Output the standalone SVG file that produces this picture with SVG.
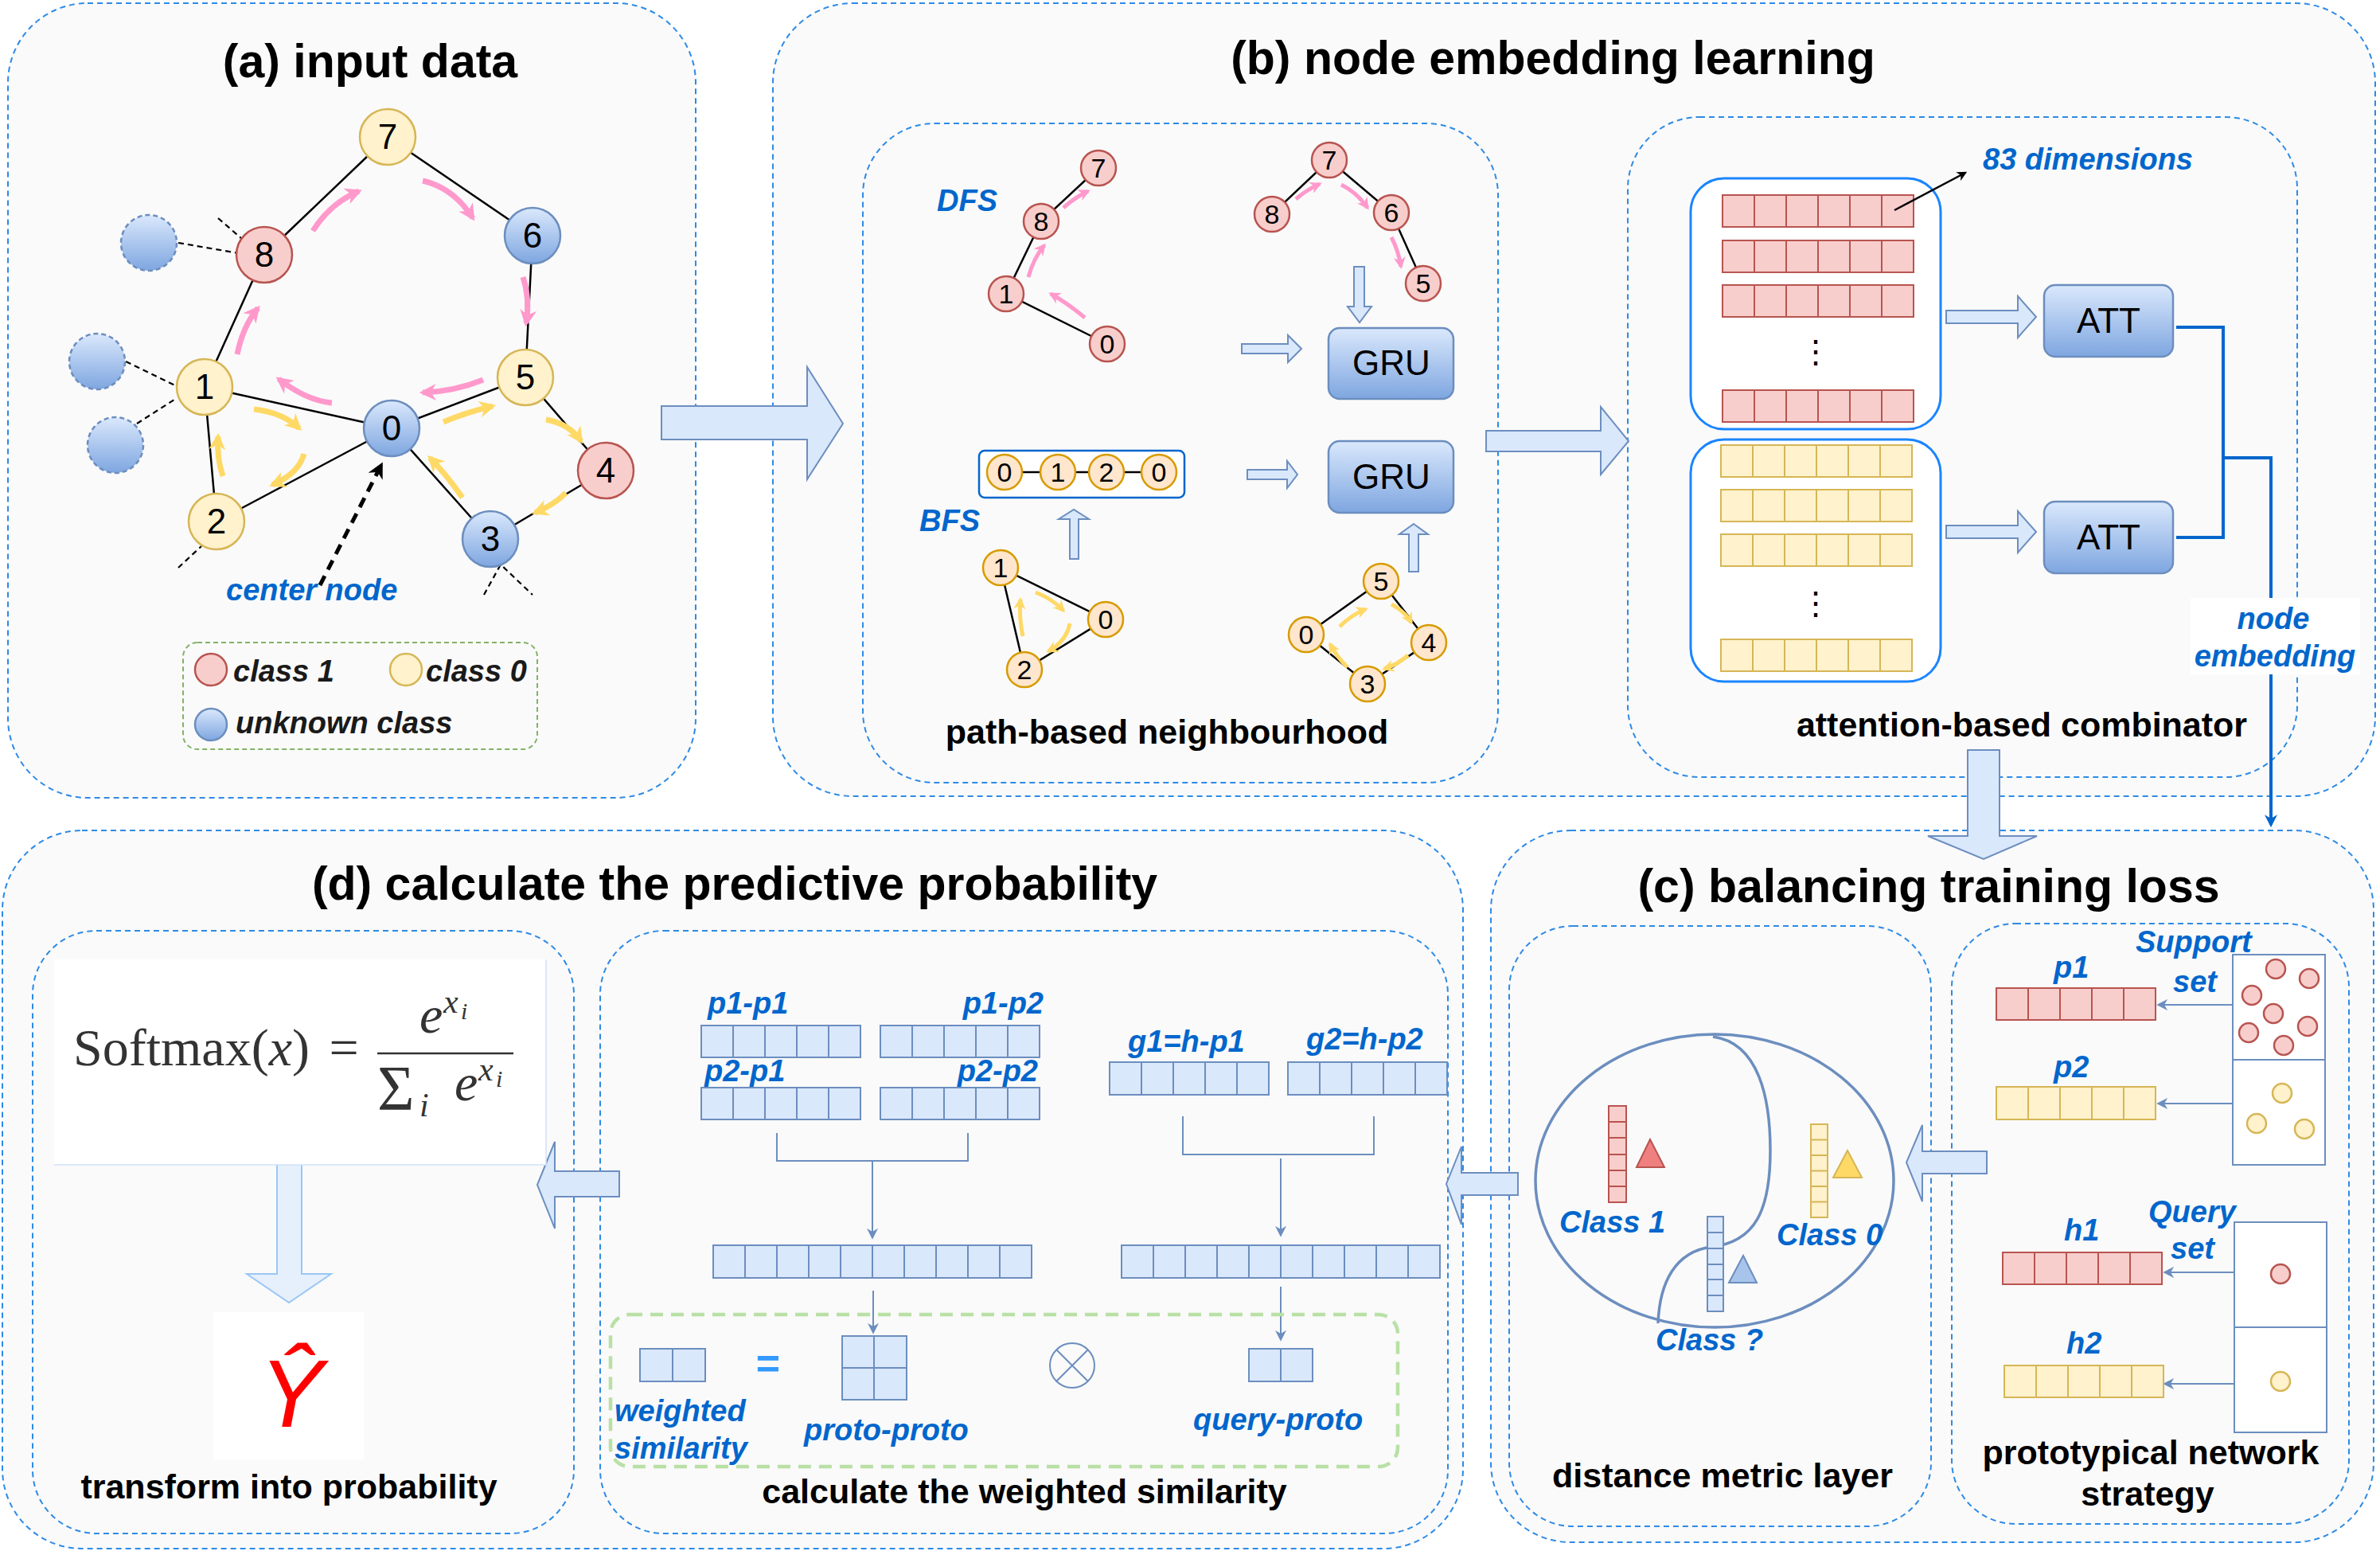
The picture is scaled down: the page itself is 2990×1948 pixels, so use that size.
<svg xmlns="http://www.w3.org/2000/svg" width="2990" height="1948" viewBox="0 0 2990 1948">
<defs>
<linearGradient id="gB" x1="0" y1="0" x2="0" y2="1"><stop offset="0" stop-color="#dae8fc"/><stop offset="1" stop-color="#7ea6e0"/></linearGradient>
<marker id="mP" viewBox="0 0 10 10" refX="8" refY="5" markerWidth="3" markerHeight="3" orient="auto" markerUnits="strokeWidth"><path d="M0,0L10,5L0,10L3,5z" fill="#ff99cc"/></marker>
<marker id="mY" viewBox="0 0 10 10" refX="8" refY="5" markerWidth="3" markerHeight="3" orient="auto" markerUnits="strokeWidth"><path d="M0,0L10,5L0,10L3,5z" fill="#ffd966"/></marker>
<marker id="mK" viewBox="0 0 10 10" refX="8" refY="5" markerWidth="5" markerHeight="5" orient="auto" markerUnits="strokeWidth"><path d="M0,0L10,5L0,10L3,5z" fill="#000"/></marker>
<marker id="mC" viewBox="0 0 10 10" refX="8" refY="5" markerWidth="4" markerHeight="4" orient="auto" markerUnits="strokeWidth"><path d="M0,0L10,5L0,10L3,5z" fill="#000"/></marker>
<marker id="mS" viewBox="0 0 10 10" refX="8" refY="5" markerWidth="7" markerHeight="7" orient="auto" markerUnits="strokeWidth"><path d="M0,0L10,5L0,10L3,5z" fill="#6c8ebf"/></marker>
<marker id="mD" viewBox="0 0 10 10" refX="8" refY="5" markerWidth="4" markerHeight="4" orient="auto" markerUnits="strokeWidth"><path d="M0,0L10,5L0,10L3,5z" fill="#0066cc"/></marker>
</defs>
<style>
.panel{fill:#fafafa;stroke:#2e8ae6;stroke-width:2;stroke-dasharray:7 5}
.sub{fill:#fafafa;stroke:#2e8ae6;stroke-width:2;stroke-dasharray:7 5}
text{font-family:"Liberation Sans",Arial,sans-serif}
.title{font-weight:bold;font-size:59px;text-anchor:middle;fill:#000}
.lbl{font-weight:bold;font-size:43px;text-anchor:middle;fill:#000}
.blue{font-weight:bold;font-style:italic;font-size:38px;fill:#0066cc}
.leg{font-weight:bold;font-style:italic;font-size:38px;fill:#1a1a1a}
.num{font-size:44px;text-anchor:middle;fill:#000}
.sn{font-size:34px;text-anchor:middle;fill:#000}
.edge{stroke:#000;stroke-width:2.5;fill:none}
.dsh{stroke:#000;stroke-width:2.2;fill:none;stroke-dasharray:7 5}
.cen{stroke:#000;stroke-width:5;fill:none;stroke-dasharray:13 9;marker-end:url(#mC)}
.nY{fill:#fff2cc;stroke:#d6b656;stroke-width:2.5}
.nR{fill:#f8cecc;stroke:#b85450;stroke-width:2.5}
.nB{fill:url(#gB);stroke:#6c8ebf;stroke-width:2.5}
.nG{fill:url(#gB);stroke:#6c8ebf;stroke-width:2.5;stroke-dasharray:6 4}
.nO{fill:#ffe6cc;stroke:#d79b00;stroke-width:2.5}
.pk{stroke:#ff99cc;stroke-width:7;fill:none;marker-end:url(#mP)}
.yl{stroke:#ffd966;stroke-width:7;fill:none;marker-end:url(#mY)}
.pk5{stroke:#ff99cc;stroke-width:5;fill:none;marker-end:url(#mP)}
.yl5{stroke:#ffd966;stroke-width:5;fill:none;marker-end:url(#mY)}
.blk{fill:#dae8fc;stroke:#6c8ebf;stroke-width:2}
.blk2{fill:#e6f0fc;stroke:#99c7f5;stroke-width:2}
.cr{fill:#f8cecc;stroke:#b85450;stroke-width:2}
.cy{fill:#fff2cc;stroke:#d6b656;stroke-width:2}
.cb{fill:#dae8fc;stroke:#6c8ebf;stroke-width:2}
.lr{stroke:#b85450;stroke-width:2;fill:none}
.ly{stroke:#d6b656;stroke-width:2;fill:none}
.lb{stroke:#6c8ebf;stroke-width:2;fill:none}
.box{fill:url(#gB);stroke:#6c8ebf;stroke-width:2.5}
.grp{fill:#fff;stroke:#1a85ff;stroke-width:3}
.con{stroke:#6c8ebf;stroke-width:2;fill:none;marker-end:url(#mS)}
.fm{font-family:"Liberation Serif","DejaVu Serif",serif;fill:#333}
</style>

<!-- panels -->
<g id="panel-a"><rect class="panel" x="10" y="4" width="864" height="998" rx="100"/><text class="title" x="465" y="97">(a) input data</text></g>
<g id="panel-b"><rect class="panel" x="971" y="4" width="2013" height="996" rx="100"/><text class="title" x="1951" y="93">(b) node embedding learning</text>
<rect class="sub" x="1084" y="155" width="798" height="828" rx="90"/><text class="lbl" x="1466" y="934">path-based neighbourhood</text>
<rect class="sub" x="2045" y="147" width="841" height="829" rx="90"/><text class="lbl" x="2540" y="925">attention-based combinator</text></g>
<g id="panel-d"><rect class="panel" x="3" y="1043" width="1835" height="902" rx="100"/><text class="title" x="923" y="1130">(d) calculate the predictive probability</text>
<rect class="sub" x="41" y="1169" width="680" height="757" rx="80"/><text class="lbl" x="363" y="1882">transform into probability</text>
<rect class="sub" x="754" y="1169" width="1065" height="757" rx="80"/><text class="lbl" x="1287" y="1888">calculate the weighted similarity</text></g>
<g id="panel-c"><rect class="panel" x="1873" y="1043" width="1109" height="894" rx="100"/><text class="title" x="2423" y="1133">(c) balancing training loss</text>
<rect class="sub" x="1896" y="1163" width="530" height="754" rx="80"/><text class="lbl" x="2164" y="1868">distance metric layer</text>
<rect class="sub" x="2452" y="1160" width="499" height="754" rx="80"/><text class="lbl" x="2702" y="1839">prototypical network</text><text class="lbl" x="2698" y="1891">strategy</text></g>

<!-- connectors -->
<g id="connectors">
<g id="a-edges">
<path class="edge" d="M487,172L332,320M487,172L669,296M669,296L660,474M332,320L257,486M257,486L492,538M257,486L272,655M272,655L492,538M492,538L660,474M660,474L761,591M492,538L616,677M616,677L761,591"/>
<path class="dsh" d="M224,305L300,318M274,274L304,300M158,454L222,485M172,532L222,500M224,713L253,686M608,747L629,709L669,747"/>
<path class="cen" d="M402,735L479,584"/>
<path class="pk" d="M298,445Q305,410 324,387"/>
<path class="pk" d="M393,290Q415,255 451,240"/>
<path class="pk" d="M531,227Q570,236 594,274"/>
<path class="pk" d="M657,348Q666,375 661,406"/>
<path class="pk" d="M607,477Q570,492 531,493"/>
<path class="pk" d="M417,506Q385,503 350,476"/>
<path class="yl" d="M319,514Q355,518 376,538"/>
<path class="yl" d="M382,570Q375,595 342,609"/>
<path class="yl" d="M280,598Q272,575 274,548"/>
<path class="yl" d="M557,530Q585,518 619,510"/>
<path class="yl" d="M686,527Q715,532 730,554"/>
<path class="yl" d="M711,619Q695,635 672,644"/>
<path class="yl" d="M581,625Q560,595 540,575"/>
</g>
<g id="b-edges">
<path class="edge" d="M1380,211L1308,278L1264,369L1391,432M1598,269L1670,201L1748,267L1788,356M1257,713L1389,778L1287,841Z M1641,797L1735,730L1795,807L1718,859Z"/>
<path class="pk5" d="M1363,399Q1340,380 1320,369"/>
<path class="pk5" d="M1292,348Q1298,325 1312,308"/>
<path class="pk5" d="M1336,261Q1350,248 1367,240"/>
<path class="pk5" d="M1628,250Q1642,238 1658,231"/>
<path class="pk5" d="M1685,232Q1705,242 1718,261"/>
<path class="pk5" d="M1748,298Q1757,315 1760,335"/>
<path class="yl5" d="M1301,744Q1322,752 1336,767"/>
<path class="yl5" d="M1344,783Q1340,805 1317,818"/>
<path class="yl5" d="M1285,799Q1280,775 1282,753"/>
<path class="yl5" d="M1683,787Q1698,772 1716,765"/>
<path class="yl5" d="M1748,759Q1765,768 1773,782"/>
<path class="yl5" d="M1769,823Q1755,835 1739,840"/>
<path class="yl5" d="M1693,838Q1680,826 1671,809"/>
</g>
<g id="block-arrows">
<polygon class="blk" points="831,510 1014,510 1014,461 1059,532 1014,602 1014,552 831,552"/>
<polygon class="blk" points="1867,541 2011,541 2011,511 2046,554 2011,596 2011,567 1867,567"/>
<polygon class="blk" points="1560,432 1618,432 1618,421 1635,438 1618,455 1618,444 1560,444"/>
<polygon class="blk" points="1567,590 1617,590 1617,579 1630,596 1617,613 1617,602 1567,602"/>
<polygon class="blk" points="1701,335 1714,335 1714,385 1723,385 1708,405 1693,385 1701,385"/>
<polygon class="blk" points="1344,702 1355,702 1355,652 1368,652 1349,640 1330,652 1344,652"/>
<polygon class="blk" points="1770,718 1782,718 1782,671 1794,671 1776,658 1758,671 1770,671"/>
<polygon class="blk" points="2445,390 2535,390 2535,372 2558,398 2535,424 2535,406 2445,406"/>
<polygon class="blk" points="2445,660 2535,660 2535,642 2558,668 2535,694 2535,676 2445,676"/>
<polygon class="blk" points="2472,942 2512,942 2512,1050 2559,1050 2492,1079 2422,1050 2472,1050"/>
<polygon class="blk" points="2496,1446 2415,1446 2415,1413 2395,1460 2415,1509 2415,1474 2496,1474"/>
<polygon class="blk" points="1907,1473 1836,1473 1836,1440 1817,1487 1836,1538 1836,1501 1907,1501"/>
<polygon class="blk" points="778,1471 697,1471 697,1434 675,1488 697,1543 697,1503 778,1503"/>
<polygon class="blk2" points="348,1457 379,1457 379,1600 416,1600 363,1636 310,1600 348,1600"/>
</g>
<g id="emb-lines">
<path d="M2734,411H2793V675H2734" stroke="#0066cc" stroke-width="4" fill="none"/>
<path d="M2793,575H2853V1036" stroke="#0066cc" stroke-width="4" fill="none" marker-end="url(#mD)"/>
</g>
<g id="d-conn">
<path class="lb" d="M976,1423V1458H1216V1423M1486,1402V1450H1726V1402"/>
<path class="con" d="M1096,1458V1554"/>
<path class="con" d="M1097,1621V1673"/>
<path class="con" d="M1609,1455V1551"/>
<path class="con" d="M1609,1616V1682"/>
<path class="con" d="M2804,1262H2712"/>
<path class="con" d="M2804,1386H2712"/>
<path class="con" d="M2807,1598H2720"/>
<path class="con" d="M2807,1738H2720"/>
</g>
</g>

<!-- (a) nodes -->
<g id="a-nodes">
<circle class="nG" cx="187" cy="305" r="35"/><circle class="nG" cx="122" cy="454" r="35"/><circle class="nG" cx="145" cy="559" r="35"/>
<g id="n7"><circle class="nY" cx="487" cy="172" r="35"/><text class="num" x="487" y="187">7</text></g>
<g id="n8"><circle class="nR" cx="332" cy="320" r="35"/><text class="num" x="332" y="335">8</text></g>
<g id="n6"><circle class="nB" cx="669" cy="296" r="35"/><text class="num" x="669" y="311">6</text></g>
<g id="n1"><circle class="nY" cx="257" cy="486" r="35"/><text class="num" x="257" y="501">1</text></g>
<g id="n5"><circle class="nY" cx="660" cy="474" r="35"/><text class="num" x="660" y="489">5</text></g>
<g id="n0"><circle class="nB" cx="492" cy="538" r="35"/><text class="num" x="492" y="553">0</text></g>
<g id="n4"><circle class="nR" cx="761" cy="591" r="35"/><text class="num" x="761" y="606">4</text></g>
<g id="n2"><circle class="nY" cx="272" cy="655" r="35"/><text class="num" x="272" y="670">2</text></g>
<g id="n3"><circle class="nB" cx="616" cy="677" r="35"/><text class="num" x="616" y="692">3</text></g>
<text class="blue" x="284" y="754">center node</text>
<g id="legend"><rect x="230" y="807" width="445" height="134" rx="18" fill="none" stroke="#82b366" stroke-width="2" stroke-dasharray="6 4"/>
<circle class="nR" cx="265" cy="841" r="20"/><text class="leg" x="293" y="856">class 1</text>
<circle class="nY" cx="510" cy="841" r="20"/><text class="leg" x="535" y="856">class 0</text>
<circle class="nB" cx="265" cy="910" r="20"/><text class="leg" x="296" y="921">unknown class</text></g>
</g>

<!-- (b) nodes -->
<g id="b-nodes">
<text class="blue" x="1177" y="265">DFS</text><text class="blue" x="1155" y="667">BFS</text>
<circle class="nR" cx="1380" cy="211" r="22"/><text class="sn" x="1380" y="223">7</text>
<circle class="nR" cx="1308" cy="278" r="22"/><text class="sn" x="1308" y="290">8</text>
<circle class="nR" cx="1264" cy="369" r="22"/><text class="sn" x="1264" y="381">1</text>
<circle class="nR" cx="1391" cy="432" r="22"/><text class="sn" x="1391" y="444">0</text>
<circle class="nR" cx="1670" cy="201" r="22"/><text class="sn" x="1670" y="213">7</text>
<circle class="nR" cx="1598" cy="269" r="22"/><text class="sn" x="1598" y="281">8</text>
<circle class="nR" cx="1748" cy="267" r="22"/><text class="sn" x="1748" y="279">6</text>
<circle class="nR" cx="1788" cy="356" r="22"/><text class="sn" x="1788" y="368">5</text>
<g id="bfs-seq"><rect x="1230" y="566" width="258" height="59" rx="7" fill="#fff" stroke="#0066cc" stroke-width="2.5"/>
<path class="edge" d="M1262,593H1456"/>
<circle class="nO" cx="1262" cy="593" r="22"/><text class="sn" x="1262" y="605">0</text>
<circle class="nO" cx="1329" cy="593" r="22"/><text class="sn" x="1329" y="605">1</text>
<circle class="nO" cx="1390" cy="593" r="22"/><text class="sn" x="1390" y="605">2</text>
<circle class="nO" cx="1456" cy="593" r="22"/><text class="sn" x="1456" y="605">0</text></g>
<circle class="nO" cx="1257" cy="713" r="22"/><text class="sn" x="1257" y="725">1</text>
<circle class="nO" cx="1389" cy="778" r="22"/><text class="sn" x="1389" y="790">0</text>
<circle class="nO" cx="1287" cy="841" r="22"/><text class="sn" x="1287" y="853">2</text>
<circle class="nO" cx="1735" cy="730" r="22"/><text class="sn" x="1735" y="742">5</text>
<circle class="nO" cx="1641" cy="797" r="22"/><text class="sn" x="1641" y="809">0</text>
<circle class="nO" cx="1795" cy="807" r="22"/><text class="sn" x="1795" y="819">4</text>
<circle class="nO" cx="1718" cy="859" r="22"/><text class="sn" x="1718" y="871">3</text>
<g id="gru1"><rect class="box" x="1669" y="412" width="157" height="89" rx="14"/><text x="1748" y="471" font-size="44" text-anchor="middle">GRU</text></g>
<g id="gru2"><rect class="box" x="1669" y="554" width="157" height="90" rx="14"/><text x="1748" y="614" font-size="44" text-anchor="middle">GRU</text></g>
</g>

<!-- attention combinator -->
<g id="att-comb">
<rect class="grp" x="2124" y="224" width="314" height="315" rx="42"/>
<rect class="grp" x="2124" y="552" width="314" height="304" rx="42"/>
<g id="red-rows">
<rect class="cr" x="2164" y="245" width="240" height="40"/><rect class="cr" x="2164" y="302" width="240" height="40"/><rect class="cr" x="2164" y="358" width="240" height="40"/><rect class="cr" x="2164" y="490" width="240" height="40"/>
<path class="lr" d="M2204,245v40M2244,245v40M2284,245v40M2324,245v40M2364,245v40M2204,302v40M2244,302v40M2284,302v40M2324,302v40M2364,302v40M2204,358v40M2244,358v40M2284,358v40M2324,358v40M2364,358v40M2204,490v40M2244,490v40M2284,490v40M2324,490v40M2364,490v40"/>
</g>
<g id="yel-rows">
<rect class="cy" x="2162" y="559" width="240" height="40"/><rect class="cy" x="2162" y="615" width="240" height="40"/><rect class="cy" x="2162" y="671" width="240" height="40"/><rect class="cy" x="2162" y="803" width="240" height="40"/>
<path class="ly" d="M2202,559v40M2242,559v40M2282,559v40M2322,559v40M2362,559v40M2202,615v40M2242,615v40M2282,615v40M2322,615v40M2362,615v40M2202,671v40M2242,671v40M2282,671v40M2322,671v40M2362,671v40M2202,803v40M2242,803v40M2282,803v40M2322,803v40M2362,803v40"/>
</g>
<text x="2281" y="455" font-size="40" text-anchor="middle" font-family="DejaVu Sans,sans-serif">⋮</text>
<text x="2281" y="771" font-size="40" text-anchor="middle" font-family="DejaVu Sans,sans-serif">⋮</text>
<path class="edge" d="M2380,264L2469,217" marker-end="url(#mK)"/>
<text class="blue" x="2491" y="213" font-size="37">83 dimensions</text>
<g id="att1"><rect class="box" x="2568" y="358" width="162" height="90" rx="14"/><text x="2649" y="418" font-size="44" text-anchor="middle">ATT</text></g>
<g id="att2"><rect class="box" x="2568" y="630" width="162" height="90" rx="14"/><text x="2649" y="690" font-size="44" text-anchor="middle">ATT</text></g>
<g id="emb-label"><rect x="2752" y="751" width="213" height="96" fill="#fff"/>
<text class="blue" x="2856" y="790" text-anchor="middle">node</text><text class="blue" x="2858" y="837" text-anchor="middle">embedding</text></g>
</g>

<!-- (d) contents -->
<g id="d-formula">
<rect x="68" y="1205" width="618" height="258" fill="#fff"/>
<path d="M686,1205V1463H68" stroke="#cfe2f7" stroke-width="1.5" fill="none"/>
<text class="fm" x="92" y="1338" font-size="66">Softmax(<tspan font-style="italic">x</tspan>) <tspan dx="8">=</tspan></text>
<path d="M474,1323H645" stroke="#333" stroke-width="2.5"/>
<text class="fm" x="527" y="1297" font-size="66" font-style="italic">e</text>
<text class="fm" x="557" y="1272" font-size="42" font-style="italic">x</text>
<text class="fm" x="579" y="1280" font-size="30" font-style="italic">i</text>
<text class="fm" x="474" y="1394" font-size="80">Σ</text>
<text class="fm" x="527" y="1402" font-size="42" font-style="italic">i</text>
<text class="fm" x="571" y="1382" font-size="66" font-style="italic">e</text>
<text class="fm" x="601" y="1357" font-size="42" font-style="italic">x</text>
<text class="fm" x="623" y="1365" font-size="30" font-style="italic">i</text>
<rect x="268" y="1648" width="189" height="185" fill="#fff"/>
<text x="366" y="1792" font-size="120" text-anchor="middle" fill="#ff0000" font-style="italic" font-family="Liberation Serif,serif">Ŷ</text>
</g>
<g id="d-sim">
<text class="blue" x="889" y="1273">p1-p1</text><text class="blue" x="1311" y="1273" text-anchor="end">p1-p2</text>
<text class="blue" x="885" y="1358">p2-p1</text><text class="blue" x="1304" y="1358" text-anchor="end">p2-p2</text>
<text class="blue" x="1417" y="1321">g1=h-p1</text><text class="blue" x="1641" y="1318">g2=h-p2</text>
<rect class="cb" x="881" y="1288" width="200" height="40"/><rect class="cb" x="1106" y="1288" width="200" height="40"/>
<rect class="cb" x="881" y="1366" width="200" height="40"/><rect class="cb" x="1106" y="1366" width="200" height="40"/>
<rect class="cb" x="1394" y="1334" width="200" height="41"/><rect class="cb" x="1618" y="1334" width="200" height="41"/>
<rect class="cb" x="896" y="1564" width="400" height="41"/><rect class="cb" x="1409" y="1564" width="400" height="41"/>
<path class="lb" d="M921,1288v40M961,1288v40M1001,1288v40M1041,1288v40M1146,1288v40M1186,1288v40M1226,1288v40M1266,1288v40M921,1366v40M961,1366v40M1001,1366v40M1041,1366v40M1146,1366v40M1186,1366v40M1226,1366v40M1266,1366v40M1434,1334v41M1474,1334v41M1514,1334v41M1554,1334v41M1658,1334v41M1698,1334v41M1738,1334v41M1778,1334v41M936,1564v41M976,1564v41M1016,1564v41M1056,1564v41M1096,1564v41M1136,1564v41M1176,1564v41M1216,1564v41M1256,1564v41M1449,1564v41M1489,1564v41M1529,1564v41M1569,1564v41M1609,1564v41M1649,1564v41M1689,1564v41M1729,1564v41M1769,1564v41"/>
<rect x="767" y="1651" width="989" height="191" rx="24" fill="none" stroke="#b9e0a5" stroke-width="4.5" stroke-dasharray="16 10"/>
<rect class="cb" x="804" y="1694" width="82" height="41"/><path class="lb" d="M845,1694v41"/>
<text x="965" y="1730" font-size="52" font-weight="bold" text-anchor="middle" fill="#3399ff">=</text>
<rect class="cb" x="1058" y="1678" width="81" height="80"/><path class="lb" d="M1098,1678v80M1058,1718h81"/>
<circle cx="1347" cy="1715" r="28" fill="none" stroke="#6c8ebf" stroke-width="2"/><path class="lb" d="M1327,1695L1367,1735M1367,1695L1327,1735"/>
<rect class="cb" x="1569" y="1694" width="80" height="41"/><path class="lb" d="M1609,1694v41"/>
<text class="blue" x="772" y="1785">weighted</text><text class="blue" x="772" y="1832">similarity</text>
<text class="blue" x="1010" y="1809">proto-proto</text><text class="blue" x="1499" y="1796">query-proto</text>
</g>

<!-- (c) contents -->
<g id="c-dist">
<ellipse cx="2154" cy="1483" rx="225" ry="184" fill="none" stroke="#6c8ebf" stroke-width="3.5"/>
<path d="M2152,1302C2210,1310 2224,1380 2224,1445C2224,1520 2205,1560 2150,1566C2105,1572 2085,1610 2083,1662" fill="none" stroke="#6c8ebf" stroke-width="3.5"/>
<rect class="cr" x="2021" y="1389" width="22" height="121"/><path class="lr" d="M2021,1409h22M2021,1429h22M2021,1450h22M2021,1470h22M2021,1490h22"/>
<polygon points="2056,1466 2073,1431 2091,1466" fill="#f08080" stroke="#b85450" stroke-width="2"/>
<rect class="cy" x="2275" y="1412" width="21" height="117"/><path class="ly" d="M2275,1431.5h21M2275,1451h21M2275,1470.5h21M2275,1490h21M2275,1509.5h21"/>
<polygon points="2303,1479 2321,1445 2339,1479" fill="#ffd966" stroke="#d6b656" stroke-width="2"/>
<rect class="cb" x="2145" y="1528" width="20" height="119"/><path class="lb" d="M2145,1548h20M2145,1568h20M2145,1588h20M2145,1607h20M2145,1627h20"/>
<polygon points="2172,1611 2190,1577 2207,1611" fill="#a9c4eb" stroke="#6c8ebf" stroke-width="2"/>
<text class="blue" x="1959" y="1548">Class 1</text><text class="blue" x="2232" y="1564">Class 0</text><text class="blue" x="2080" y="1696">Class ?</text>
</g>
<g id="c-proto">
<text class="blue" x="2683" y="1196">Support</text><text class="blue" x="2730" y="1246">set</text>
<text class="blue" x="2580" y="1228">p1</text><text class="blue" x="2580" y="1353">p2</text>
<text class="blue" x="2699" y="1535">Query</text><text class="blue" x="2727" y="1581">set</text>
<text class="blue" x="2593" y="1558">h1</text><text class="blue" x="2596" y="1700">h2</text>
<rect class="cr" x="2508" y="1241" width="200" height="40"/><path class="lr" d="M2548,1241v40M2588,1241v40M2628,1241v40M2668,1241v40"/>
<rect class="cy" x="2508" y="1365" width="200" height="41"/><path class="ly" d="M2548,1365v41M2588,1365v41M2628,1365v41M2668,1365v41"/>
<rect class="cr" x="2516" y="1573" width="200" height="40"/><path class="lr" d="M2556,1573v40M2596,1573v40M2636,1573v40M2676,1573v40"/>
<rect class="cy" x="2518" y="1715" width="200" height="40"/><path class="ly" d="M2558,1715v40M2598,1715v40M2638,1715v40M2678,1715v40"/>
<g id="support-box"><rect x="2805" y="1199" width="116" height="264" fill="#fff" stroke="#6c8ebf" stroke-width="2"/><path class="lb" d="M2805,1331h116"/>
<g class="nR" stroke-width="2"><circle cx="2859" cy="1217" r="12"/><circle cx="2901" cy="1229" r="12"/><circle cx="2829" cy="1250" r="12"/><circle cx="2856" cy="1273" r="12"/><circle cx="2899" cy="1289" r="12"/><circle cx="2825" cy="1297" r="12"/><circle cx="2869" cy="1313" r="12"/></g>
<g class="nY" stroke-width="2"><circle cx="2867" cy="1373" r="12"/><circle cx="2835" cy="1411" r="12"/><circle cx="2895" cy="1418" r="12"/></g></g>
<g id="query-box"><rect x="2807" y="1535" width="116" height="264" fill="#fff" stroke="#6c8ebf" stroke-width="2"/><path class="lb" d="M2807,1667h116"/>
<circle class="nR" cx="2865" cy="1600" r="12" stroke-width="2"/><circle class="nY" cx="2865" cy="1735" r="12" stroke-width="2"/></g>
</g>
</svg>
